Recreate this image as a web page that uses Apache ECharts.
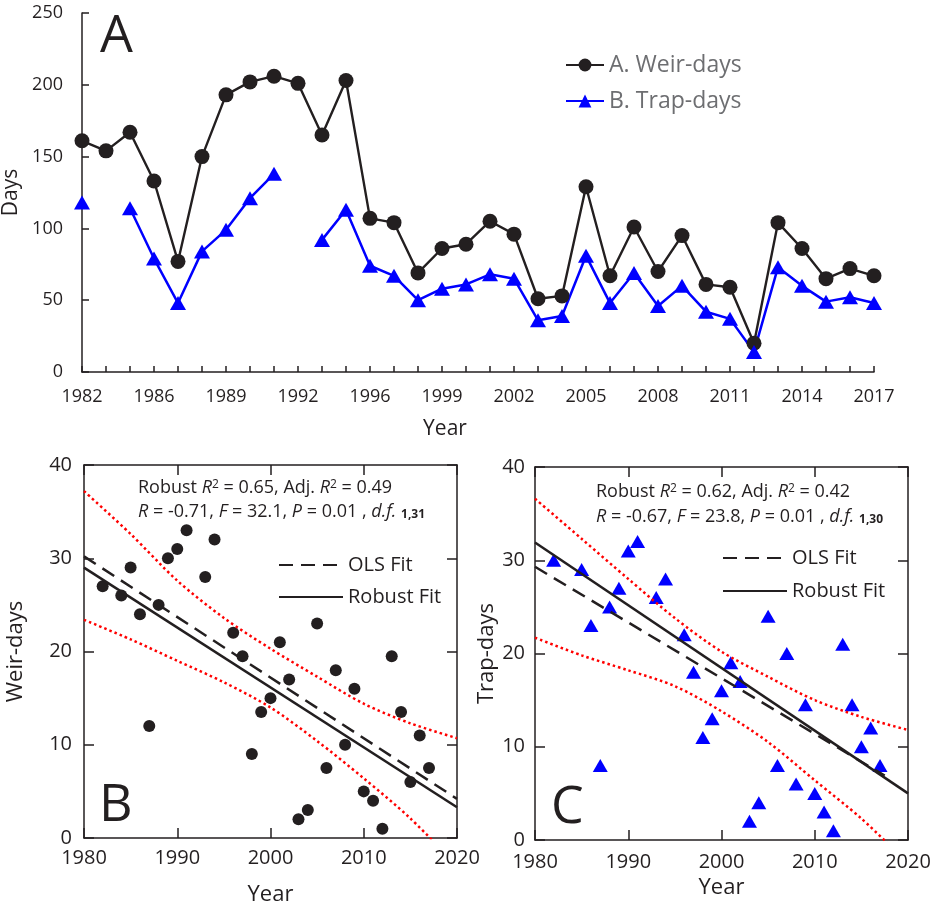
<!DOCTYPE html>
<html>
<head>
<meta charset="utf-8">
<title>Weir-days and Trap-days</title>
<script src="https://cdn.jsdelivr.net/npm/echarts@6/dist/echarts.min.js"></script>
<style>
  html, body { margin: 0; padding: 0; background: #fff; }
  #chart { width: 943px; height: 905px; }
</style>
</head>
<body>
<div id="chart"></div>
<script>
// panel A: yearly series (1983 and 1995 not sampled)
var years = ['1982', '1984', '1985', '1986', '1987', '1988', '1989', '1990', '1991', '1992', '1993', '1994',
  '1996', '1997', '1998', '1999', '2000', '2001', '2002', '2003', '2004', '2005', '2006', '2007', '2008',
  '2009', '2010', '2011', '2012', '2013', '2014', '2015', '2016', '2017'];
var weirDays = [161, 154, 167, 133, 77, 150, 193, 202, 206, 201, 165, 203, 107, 104, 69, 86, 89, 105, 96,
  51, 53, 129, 67, 101, 70, 95, 61, 59, 20, 104, 86, 65, 72, 67];
var trapDays = [118, null, 114, 79, 48, 84, 99, 121, 138, null, 92, 113, 74, 67, 50, 58, 61, 68, 65,
  36, 39, 81, 48, 69, 46, 60, 42, 37, 14, 73, 60, 49, 52, 48];

// panel B: ranked weir-days
var yearsB = [1982, 1984, 1985, 1986, 1987, 1988, 1989, 1990, 1991, 1993, 1994, 1996, 1997, 1998, 1999,
  2000, 2001, 2002, 2003, 2004, 2005, 2006, 2007, 2008, 2009, 2010, 2011, 2012, 2013, 2014, 2015, 2016, 2017];
var weirRank = [27, 26, 29, 24, 12, 25, 30, 31, 33, 28, 32, 22, 19.5, 9, 13.5, 15, 21, 17, 2, 3, 23, 7.5,
  18, 10, 16, 5, 4, 1, 19.5, 13.5, 6, 11, 7.5];

// panel C: ranked trap-days
var yearsC = [1982, 1985, 1986, 1987, 1988, 1989, 1990, 1991, 1993, 1994, 1996, 1997, 1998, 1999, 2000,
  2001, 2002, 2003, 2004, 2005, 2006, 2007, 2008, 2009, 2010, 2011, 2012, 2013, 2014, 2015, 2016, 2017];
var trapRank = [30, 29, 23, 8, 25, 27, 31, 32, 26, 28, 22, 18, 11, 13, 16, 19, 17, 2, 4, 24, 8, 20, 6,
  14.5, 5, 3, 1, 21, 14.5, 10, 12, 8];

// fits and confidence bands
var fitX = [1980, 2020];
var bOls = [30.2, 4.2];
var bRobust = [29.0, 3.3];
var cOlsX = [1980, 2017.5];
var cOls = [29.3, 6.9];
var cRobust = [31.9, 5.0];
var bandX = [1980, 1985, 1990, 1995, 2000, 2005, 2010, 2015, 2020];
var bUpper = [37.2, 32.6, 27.6, 23.6, 20.3, 17.3, 14.4, 12.3, 10.7];
var bLower = [23.4, 21.3, 19.0, 16.7, 14.0, 10.4, 6.4, 2.1, -3.0];
var cUpper = [36.6, 32.3, 28.0, 23.8, 20.2, 17.5, 15.0, 13.2, 11.8];
var cLower = [21.7, 19.8, 18.2, 16.5, 13.8, 10.5, 6.4, 2.3, -2.5];

var ink = '#231f20';
var font = 'Open Sans';

function pairs(xs, ys) {
  return xs.map(function (x, i) { return [x, ys[i]]; });
}

function boxAxis(gridIndex, pos, min, max, opts) {
  var ax = {
    type: 'value',
    gridIndex: gridIndex,
    position: pos,
    min: min,
    max: max,
    interval: 10,
    splitLine: { show: false },
    axisLine: { show: true, onZero: false, lineStyle: { color: ink, width: 1.5 } },
    axisTick: { show: true, inside: true, length: 10, lineStyle: { color: ink, width: 1.5 } },
    axisLabel: { show: false }
  };
  return Object.assign(ax, opts || {});
}

function labelStyle(margin) {
  return {
    show: true, margin: margin, fontSize: 20, color: ink, fontFamily: font,
    formatter: function (v) { return String(v); }
  };
}

function nameStyle(size) {
  return { fontSize: size, color: ink, fontFamily: font };
}

var dotted = { color: '#ff0000', width: 2.5, type: [2.5, 3] };
var dashed = { color: ink, width: 2.5, type: [14, 8] };
var solid = { color: ink, width: 2.5 };

function fitLine(name, data, style, xi) {
  return {
    name: name, type: 'line', xAxisIndex: xi, yAxisIndex: xi, data: data,
    symbol: 'none', lineStyle: style, itemStyle: { color: ink }, silent: true
  };
}

function band(data, xi) {
  return {
    name: 'band', type: 'line', xAxisIndex: xi, yAxisIndex: xi, data: data,
    symbol: 'none', smooth: 0.3, lineStyle: dotted, silent: true
  };
}

function annot(x, y, text) {
  return {
    type: 'text', x: x, y: y,
    style: {
      text: text, fontSize: 18, fontFamily: font, fill: ink, verticalAlign: 'middle',
      rich: {
        i: { fontSize: 18, fontFamily: font, fontStyle: 'italic', fill: ink },
        sup: { fontSize: 12, fontFamily: font, fill: ink, verticalAlign: 'top' },
        sub: { fontSize: 12, fontFamily: font, fontWeight: 'bold', fill: ink, verticalAlign: 'bottom', padding: [6, 0, 0, 0] }
      }
    }
  };
}

function bigLetter(x, y, t) {
  return { type: 'text', x: x, y: y, style: { text: t, fontSize: 52, fontFamily: font, fill: ink, verticalAlign: 'middle' } };
}

// fit legends: line only, hide the marker ECharts puts in the middle
function fitLegend(left, top, gap) {
  return {
    left: left, top: top, orient: 'vertical', itemWidth: 64, itemHeight: 14, itemGap: gap,
    data: ['OLS Fit', 'Robust Fit'],
    itemStyle: { color: 'rgba(0,0,0,0)', borderWidth: 0 },
    textStyle: { fontSize: 20, lineHeight: 22, color: ink, fontFamily: font }
  };
}

var chart = echarts.init(document.getElementById('chart'));

chart.setOption({
  animation: false,
  textStyle: { fontFamily: font },
  // fixed plot boxes, no automatic shrinking to fit labels
  grid: [
    { left: 82, top: 13, width: 792, height: 359, outerBoundsMode: 'none' },
    { left: 84, top: 465, width: 373, height: 373, outerBoundsMode: 'none' },
    { left: 535, top: 467, width: 373, height: 373, outerBoundsMode: 'none' }
  ],
  legend: [
    {
      left: 560, top: 47, orient: 'vertical', itemWidth: 38, itemHeight: 16, itemGap: 10,
      data: ['A. Weir-days', 'B. Trap-days'],
      textStyle: { fontSize: 23, lineHeight: 26, color: '#6d6e71', fontFamily: font }
    },
    fitLegend(273, 549, 10),
    fitLegend(717, 542, 11)
  ],
  xAxis: [
    {
      type: 'category', gridIndex: 0, data: years, boundaryGap: false,
      axisLine: { lineStyle: { color: ink, width: 1.5 } },
      axisTick: { inside: true, length: 6, interval: 0, lineStyle: { color: ink, width: 1.5 } },
      axisLabel: { interval: 2, margin: 16, fontSize: 18, color: ink, fontFamily: font },
      name: 'Year', nameLocation: 'middle', nameGap: 47,
      nameTextStyle: { fontSize: 21, color: ink, fontFamily: font, padding: [0, 66, 0, 0] }
    },
    boxAxis(1, 'bottom', 1980, 2020, {
      axisLabel: labelStyle(10), name: 'Year', nameLocation: 'middle', nameGap: 46, nameTextStyle: nameStyle(22)
    }),
    boxAxis(1, 'top', 1980, 2020),
    boxAxis(2, 'bottom', 1980, 2020, {
      axisLabel: labelStyle(12), name: 'Year', nameLocation: 'middle', nameGap: 37, nameTextStyle: nameStyle(22)
    }),
    boxAxis(2, 'top', 1980, 2020)
  ],
  yAxis: [
    {
      type: 'value', gridIndex: 0, min: 0, max: 250, interval: 50,
      splitLine: { show: false },
      axisLine: { show: true, lineStyle: { color: ink, width: 1.5 } },
      axisTick: { show: true, inside: true, length: 7, lineStyle: { color: ink, width: 1.5 } },
      axisLabel: { margin: 19, fontSize: 18, color: ink, fontFamily: font },
      name: 'Days', nameLocation: 'middle', nameGap: 51, nameTextStyle: nameStyle(21)
    },
    boxAxis(1, 'left', 0, 40, {
      axisLabel: labelStyle(12), name: 'Weir-days', nameLocation: 'middle', nameGap: 57, nameTextStyle: nameStyle(22)
    }),
    boxAxis(1, 'right', 0, 40),
    boxAxis(2, 'left', 0, 40, {
      axisLabel: labelStyle(10), name: 'Trap-days', nameLocation: 'middle', nameGap: 36, nameTextStyle: nameStyle(22)
    }),
    boxAxis(2, 'right', 0, 40)
  ],
  graphic: [
    bigLetter(100, 37, 'A'),
    bigLetter(99, 806, 'B'),
    bigLetter(551, 808, 'C'),
    annot(138, 488, 'Robust {i|R}{sup|2} = 0.65, Adj. {i|R}{sup|2} = 0.49'),
    annot(138, 512, '{i|R} = -0.71, {i|F} = 32.1, {i|P} = 0.01 , {i|d.f.} {sub|1,31}'),
    annot(596, 492, 'Robust {i|R}{sup|2} = 0.62, Adj. {i|R}{sup|2} = 0.42'),
    annot(596, 517, '{i|R} = -0.67, {i|F} = 23.8, {i|P} = 0.01 , {i|d.f.} {sub|1,30}')
  ],
  series: [
    {
      name: 'A. Weir-days', type: 'line', xAxisIndex: 0, yAxisIndex: 0, data: weirDays,
      symbol: 'circle', symbolSize: 15, showAllSymbol: true,
      itemStyle: { color: ink }, lineStyle: { color: ink, width: 2.4 }
    },
    {
      name: 'B. Trap-days', type: 'line', xAxisIndex: 0, yAxisIndex: 0, data: trapDays,
      symbol: 'triangle', symbolSize: [16, 14], showAllSymbol: true, connectNulls: false,
      itemStyle: { color: '#0000ff' }, lineStyle: { color: '#0000ff', width: 2.5 }
    },
    band(pairs(bandX, bUpper), 1),
    band(pairs(bandX, bLower), 1),
    fitLine('OLS Fit', pairs(fitX, bOls), dashed, 1),
    fitLine('Robust Fit', pairs(fitX, bRobust), solid, 1),
    {
      name: 'Weir rank', type: 'scatter', xAxisIndex: 1, yAxisIndex: 1, data: pairs(yearsB, weirRank),
      symbol: 'circle', symbolSize: 12, itemStyle: { color: ink, opacity: 1 }
    },
    band(pairs(bandX, cUpper), 3),
    band(pairs(bandX, cLower), 3),
    fitLine('OLS Fit', pairs(cOlsX, cOls), dashed, 3),
    fitLine('Robust Fit', pairs(fitX, cRobust), solid, 3),
    {
      name: 'Trap rank', type: 'scatter', xAxisIndex: 3, yAxisIndex: 3, data: pairs(yearsC, trapRank),
      symbol: 'triangle', symbolSize: [15, 13], itemStyle: { color: '#0000ff', opacity: 1 }
    }
  ]
});
</script>
</body>
</html>
